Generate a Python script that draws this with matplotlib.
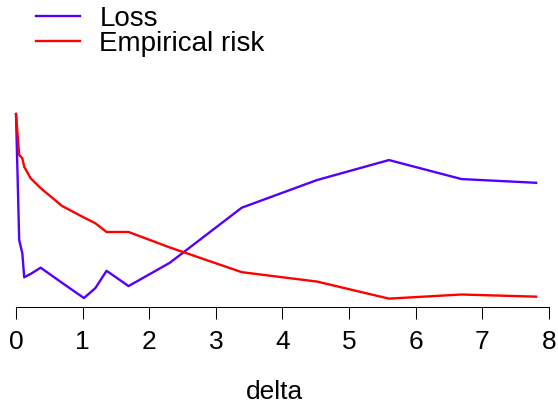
import matplotlib
matplotlib.use("Agg")
import matplotlib.pyplot as plt

plt.rcParams["font.family"] = ["Liberation Sans", "DejaVu Sans"]

# values (no y axis shown, so y is in relative units)
delta = [0, 0.048, 0.095, 0.123, 0.22, 0.37, 0.69, 1.02, 1.19, 1.36,
         1.69, 2.31, 3.39, 4.52, 5.60, 6.69, 7.81]
loss = [1.000, 0.357, 0.289, 0.167, 0.184, 0.216, 0.139, 0.061, 0.111, 0.200,
        0.122, 0.241, 0.522, 0.663, 0.765, 0.668, 0.649]
emp_risk = [1.000, 0.791, 0.774, 0.731, 0.672, 0.622, 0.531, 0.472, 0.443, 0.398,
            0.398, 0.319, 0.193, 0.145, 0.058, 0.079, 0.068]
xticks = [0, 1, 2, 3, 4, 5, 6, 7, 8]

fig = plt.figure(figsize=(5.58, 4.04), dpi=100)
ax = fig.add_axes([16 / 558, 97.3 / 404, 532.8 / 558, 192.7 / 404])

ax.plot(delta, loss, color="#5500FF", lw=1.7, label="Loss",
        clip_on=False, solid_joinstyle="round")
ax.plot(delta, emp_risk, color="#FF0000", lw=1.7, label="Empirical risk",
        clip_on=False, solid_joinstyle="round")

ax.set_xlim(0, 8)
ax.set_ylim(0.0168, 1.0)
ax.set_xticks(xticks)
ax.set_xticklabels([str(t) for t in xticks], fontsize=19)
ax.tick_params(axis="x", length=8.6, width=0.75, pad=8.5, color="black")
ax.set_yticks([])
for s in ["left", "right", "top"]:
    ax.spines[s].set_visible(False)
ax.spines["bottom"].set_linewidth(0.75)

fig.text(274.5 / 558, 1 - 399.3 / 404, "delta", ha="center", va="baseline",
         fontsize=19)

ax.legend(loc="upper left", bbox_to_anchor=(36 / 558, 1 - 6.1 / 404),
          bbox_transform=fig.transFigure, frameon=False, fontsize=20,
          handlelength=1.6, handletextpad=0.68, labelspacing=-0.05,
          borderpad=0, borderaxespad=0)

fig.savefig("out.png", dpi=100)
